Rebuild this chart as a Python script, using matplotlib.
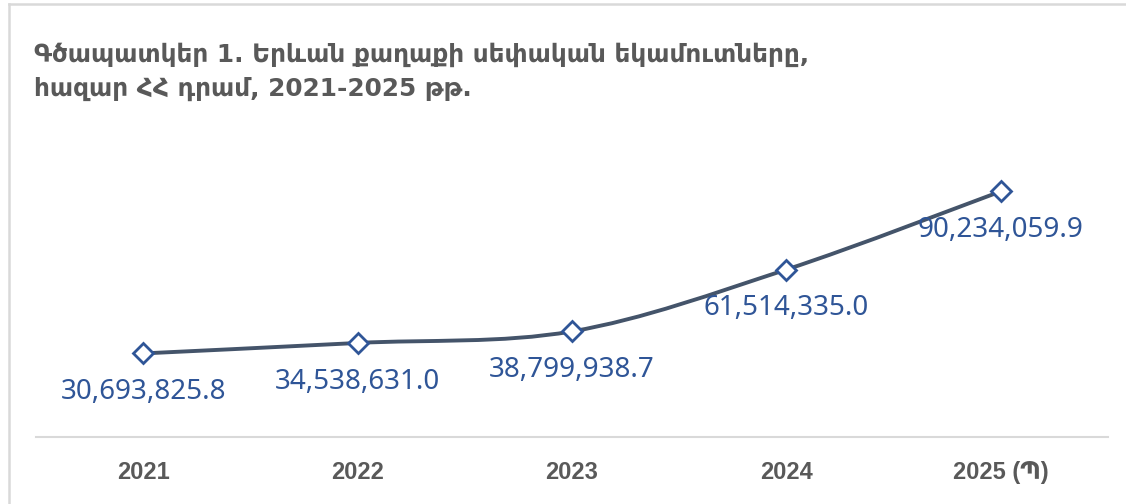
import matplotlib.pyplot as plt
from matplotlib.path import Path
from matplotlib.patches import PathPatch
from matplotlib.lines import Line2D

# Data
years = ['2021', '2022', '2023', '2024', '2025 (Պ)']
revenues = [30693825.8, 34538631.0, 38799938.7, 61514335.0, 90234059.9]
labels = ['30,693,825.8', '34,538,631.0', '38,799,938.7', '61,514,335.0', '90,234,059.9']

title = 'Գծապատկեր 1. Երևան քաղաքի սեփական եկամուտները,\nհազար ՀՀ դրամ, 2021-2025 թթ.'

LINE_COLOR = '#44546A'
MARK_COLOR = '#2F5597'
TEXT_GRAY = '#595959'


def smooth_path(xs, ys, tension=1 / 6):
    """Excel-like smoothed line as cubic Bezier segments through the points."""
    n = len(xs)
    verts = [(xs[0], ys[0])]
    codes = [Path.MOVETO]
    for i in range(n - 1):
        x0, y0 = xs[max(i - 1, 0)], ys[max(i - 1, 0)]
        x1, y1 = xs[i], ys[i]
        x2, y2 = xs[i + 1], ys[i + 1]
        x3, y3 = xs[min(i + 2, n - 1)], ys[min(i + 2, n - 1)]
        c1 = (x1 + (x2 - x0) * tension, y1 + (y2 - y0) * tension)
        c2 = (x2 - (x3 - x1) * tension, y2 - (y3 - y1) * tension)
        verts += [c1, c2, (x2, y2)]
        codes += [Path.CURVE4] * 3
    return Path(verts, codes)


fig = plt.figure(figsize=(11.26, 5.04), dpi=100)
ax = fig.add_axes([0.032, 0.133, 0.952, 0.54])

xs = list(range(len(years)))
path = smooth_path(xs, revenues)
ax.add_patch(PathPatch(path, facecolor='none', edgecolor=LINE_COLOR, lw=2.8,
                       capstyle='round', zorder=2))
ax.plot(xs, revenues, linestyle='none', marker='D', markersize=10,
        markerfacecolor='white', markeredgecolor=MARK_COLOR, markeredgewidth=2, zorder=3)

for x, y, lab in zip(xs, revenues, labels):
    ax.annotate(lab, (x, y), xytext=(0, -28), textcoords='offset points',
                ha='center', va='center', fontsize=20, color=MARK_COLOR,
                family=['Noto Sans', 'DejaVu Sans'])

ax.set_xlim(-0.5, len(years) - 0.5)
ax.set_ylim(0, 100000000)
ax.set_yticks([])
ax.set_xticks(xs)
ax.set_xticklabels(years, fontsize=17, fontweight='bold', color=TEXT_GRAY,
                   family=['Liberation Sans', 'DejaVu Sans'])
ax.tick_params(axis='x', length=0, pad=17)
for side in ['top', 'right', 'left']:
    ax.spines[side].set_visible(False)
ax.spines['bottom'].set_color('#D9D9D9')
ax.spines['bottom'].set_linewidth(1.5)

fig.text(0.03, 0.915, title, ha='left', va='top', fontsize=17.8, fontweight='bold',
         color=TEXT_GRAY, linespacing=1.5, family=['DejaVu Sans'])

# light frame on the top and left edges
fig.add_artist(Line2D([0.008, 0.008], [0, 0.992], color='#D9D9D9', lw=1.8,
                      transform=fig.transFigure))
fig.add_artist(Line2D([0.008, 1], [0.992, 0.992], color='#D9D9D9', lw=1.8,
                      transform=fig.transFigure))

fig.savefig('out.png', dpi=100)
